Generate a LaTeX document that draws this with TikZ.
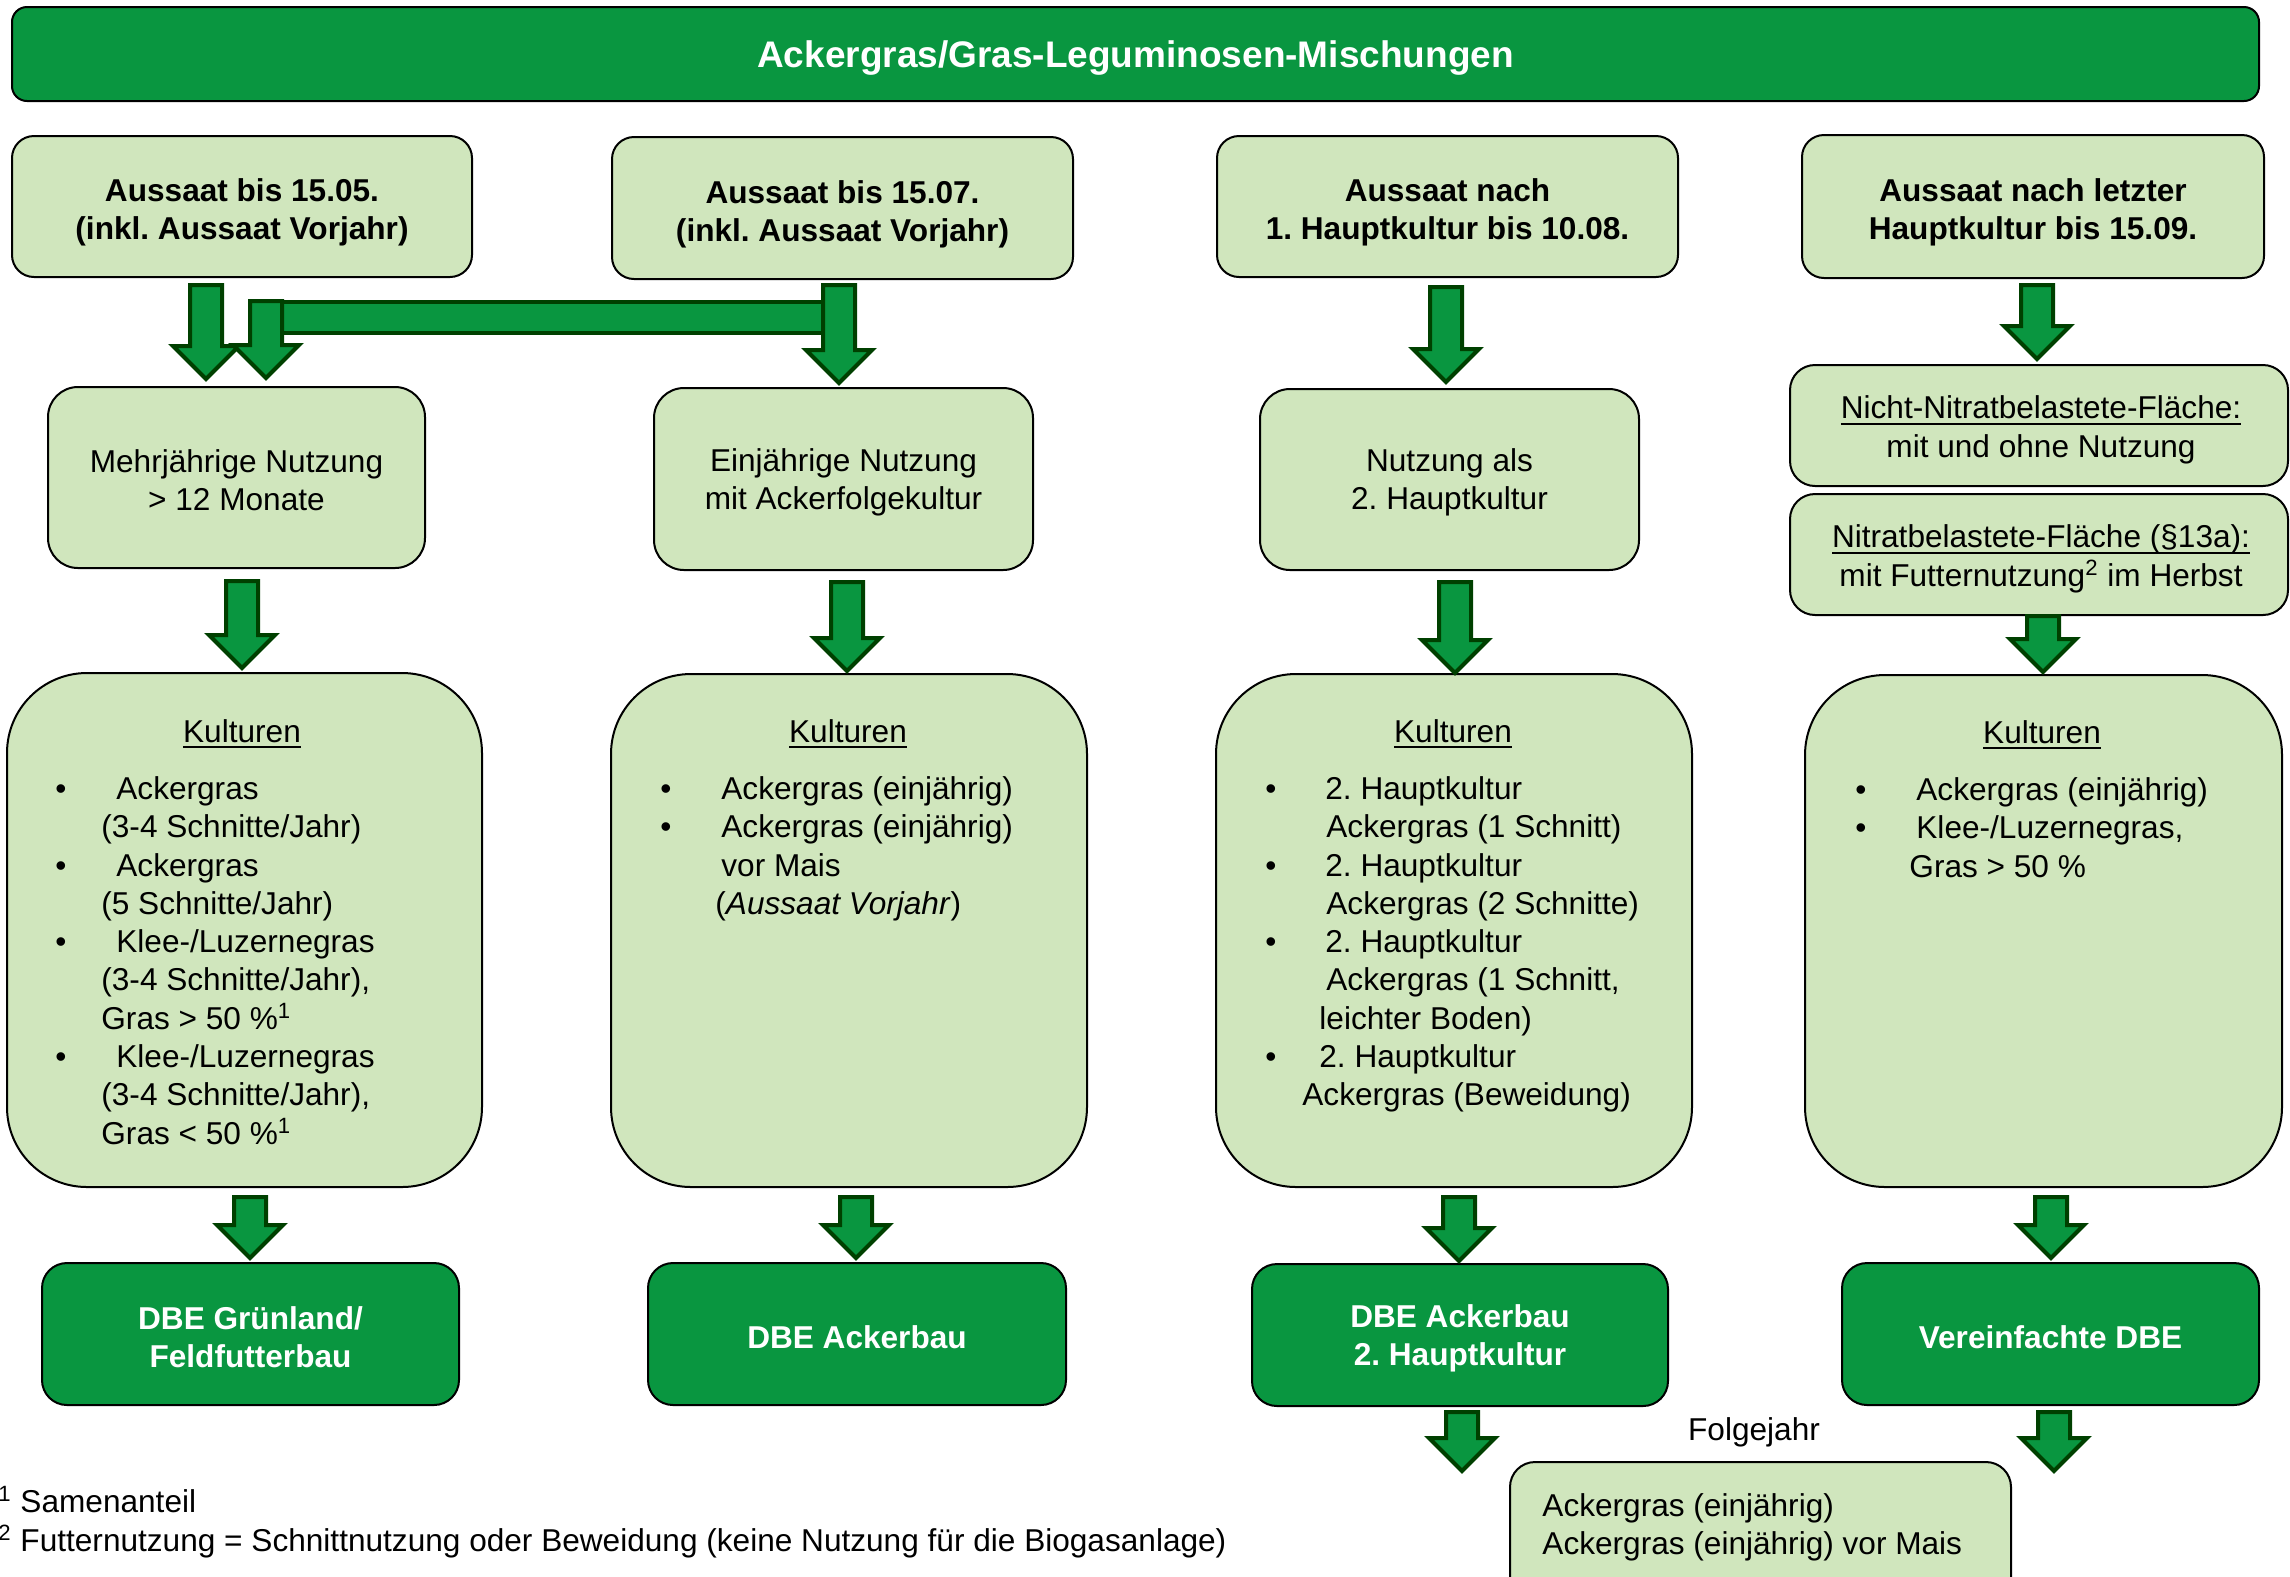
\documentclass[tikz,border=0pt]{standalone}
\usepackage{fontspec}
\setmainfont{Liberation Sans}
\usetikzlibrary{calc}
\frenchspacing
\definecolor{gfill}{RGB}{9,150,64}
\definecolor{lfill}{RGB}{208,230,189}
\definecolor{adark}{RGB}{0,64,0}
\newcommand\fs{\fontsize{15.8pt}{19.15pt}\selectfont}
\newcommand\fst{\fontsize{18.5pt}{22pt}\selectfont}
\newcommand\bul[1]{\llap{\textbullet\hspace{#1}}}
\newcommand\uln[1]{\setbox0\hbox{#1}\rlap{\rule[-2.9pt]{\wd0}{0.9pt}}\box0}
\newcommand\st{\rule{0pt}{12pt}}
\newcommand\barrow[5]{%
 \draw[arrowst] let \p1=#2, \p2=#3 in
 ({#1*0.5pt-8pt},{\y1-#4*0.5pt}) -- ({#1*0.5pt+8pt},{\y1-#4*0.5pt})
 -- ({#1*0.5pt+8pt},{\y2+#5*0.5pt+16.5pt}) -- ({#1*0.5pt+16.5pt},{\y2+#5*0.5pt+16.5pt})
 -- ({#1*0.5pt},{\y2+#5*0.5pt}) -- ({#1*0.5pt-16.5pt},{\y2+#5*0.5pt+16.5pt})
 -- ({#1*0.5pt-8pt},{\y2+#5*0.5pt+16.5pt}) -- cycle;}
\begin{document}
\begin{tikzpicture}[x=0.5pt,y=-0.5pt,
 wh/.style 2 args={minimum width=#1*0.5pt,minimum height=#2*0.5pt},
 rc/.style={rounded corners=#1*0.5pt},
 lbox/.style={draw=black,line width=1pt,fill=lfill,inner sep=0pt},
 gbox/.style={draw=black,line width=1pt,fill=gfill,inner sep=0pt},
 ctext/.style={inner sep=0pt,align=center,font=\fs},
 wtext/.style={inner sep=0pt,align=center,font=\fs\bfseries,text=white},
 arrowst/.style={draw=adark,fill=gfill,line width=2pt,line join=miter},
 txt/.style={inner sep=0pt,font=\fs,align=left,anchor=north west},
 lbl/.style={inner sep=0pt,font=\fs}]
\useasboundingbox (0,0) rectangle (2290,1576);
\clip (0,0) rectangle (2290,1576);

% title
\node[gbox,wh={2247}{94},rc=15] (title) at (1135.5,54) {};
\node[wtext,font=\fst\bfseries] (titlet) at ([yshift=-2.2pt]title.center) {Ackergras/Gras-Leguminosen-Mischungen};

% row 1
\node[lbox,wh={460}{141},rc=22] (b1) at (242,206.5) {};
\node[lbox,wh={461}{142},rc=22] (b2) at (842.5,208) {};
\node[lbox,wh={461}{141},rc=22] (b3) at (1447.5,206.5) {};
\node[lbox,wh={462}{143},rc=22] (b4) at (2033,206.5) {};
\node[ctext,font=\fs\bfseries] (b1t) at ([yshift=-3pt]b1.center) {Aussaat bis 15.05.\\(inkl. Aussaat Vorjahr)};
\node[ctext,font=\fs\bfseries] (b2t) at ([yshift=-3pt]b2.center) {Aussaat bis 15.07.\\(inkl. Aussaat Vorjahr)};
\node[ctext,font=\fs\bfseries] (b3t) at ([yshift=-3pt]b3.center) {Aussaat nach\\1. Hauptkultur bis 10.08.};
\node[ctext,font=\fs\bfseries] (b4t) at ([yshift=-3pt]b4.center) {Aussaat nach letzter\\Hauptkultur bis 15.09.};

% row 2
\node[lbox,wh={377}{181},rc=30] (m1) at (236.5,477.5) {};
\node[lbox,wh={379}{182},rc=30] (m2) at (843.5,479) {};
\node[lbox,wh={379}{181},rc=30] (m3) at (1449.5,479.5) {};
\node[lbox,wh={498}{121},rc=25] (n1) at (2039,425.5) {};
\node[lbox,wh={498}{121},rc=25] (n2) at (2039,554.5) {};
\node[ctext] (m1t) at ([yshift=-1.5pt]m1.center) {Mehrjährige Nutzung\\> 12 Monate};
\node[ctext] (m2t) at ([yshift=-1.5pt]m2.center) {Einjährige Nutzung\\mit Ackerfolgekultur};
\node[ctext] (m3t) at ([yshift=-1.5pt]m3.center) {Nutzung als\\2. Hauptkultur};
\node[ctext] (n1t) at ([xshift=1pt,yshift=-2.2pt]n1.center) {\uln{Nicht-Nitratbelastete-Fläche:}\\mit und ohne Nutzung};
\node[ctext] (n2t) at ([xshift=1pt,yshift=-2.2pt]n2.center) {\uln{Nitratbelastete-Fläche (§13a):}\\mit Futternutzung\textsuperscript{2} im Herbst};

% row 3
\node[lbox,wh={475}{514},rc=80] (k1) at (244.5,930) {};
\node[lbox,wh={476}{513},rc=80] (k2) at (849,930.5) {};
\node[lbox,wh={476}{513},rc=80] (k3) at (1454,930.5) {};
\node[lbox,wh={477}{512},rc=80] (k4) at (2043.5,931) {};

\node[lbl,anchor=base] (k1h) at (242,742) {\uln{Kulturen}};
\node[lbl,anchor=base] (k2h) at (848,742) {\uln{Kulturen}};
\node[lbl,anchor=base] (k3h) at (1453,742) {\uln{Kulturen}};
\node[lbl,anchor=base] (k4h) at (2042,743) {\uln{Kulturen}};

\node[txt] (k1t) at (101,775) {\st\bul{17.5pt}\hspace*{7.5pt}Ackergras\\
(3-4 Schnitte/Jahr)\\
\bul{17.5pt}\hspace*{7.5pt}Ackergras\\
(5 Schnitte/Jahr)\\
\bul{17.5pt}\hspace*{7.5pt}Klee-/Luzernegras\\
(3-4 Schnitte/Jahr),\\
Gras > 50 \%\textsuperscript{1}\\
\bul{17.5pt}\hspace*{7.5pt}Klee-/Luzernegras\\
(3-4 Schnitte/Jahr),\\
Gras < 50 \%\textsuperscript{1}};

\node[txt] (k2t) at (715,775) {\st\bul{22pt}\hspace*{3pt}Ackergras (einjährig)\\
\bul{22pt}\hspace*{3pt}Ackergras (einjährig)\\
\hspace*{3pt}vor Mais\\
(\textit{Aussaat Vorjahr})};

\node[txt] (k3t) at (1302,775) {\st\bul{13pt}\hspace*{11.5pt}2. Hauptkultur\\
\hspace*{12pt}Ackergras (1 Schnitt)\\
\bul{13pt}\hspace*{11.5pt}2. Hauptkultur\\
\hspace*{12pt}Ackergras (2 Schnitte)\\
\bul{13pt}\hspace*{11.5pt}2. Hauptkultur\\
\hspace*{12pt}Ackergras (1 Schnitt,\\
\hspace*{8.5pt}leichter Boden)\\
\bul{13pt}\hspace*{8.5pt}2. Hauptkultur\\
Ackergras (Beweidung)};

\node[txt] (k4t) at (1909,776) {\st\bul{21.5pt}\hspace*{3.5pt}Ackergras (einjährig)\\
\bul{21.5pt}\hspace*{3.5pt}Klee-/Luzernegras,\\
Gras > 50 \%};

% row 4
\node[gbox,wh={417}{142},rc=25] (d1) at (250.5,1334) {};
\node[gbox,wh={418}{142},rc=25] (d2) at (857,1334) {};
\node[gbox,wh={416}{142},rc=25] (d3) at (1460,1335) {};
\node[gbox,wh={417}{142},rc=25] (d4) at (2050.5,1334) {};
\node[wtext] (d1t) at ([yshift=-1.5pt]d1.center) {DBE Grünland/\\Feldfutterbau};
\node[wtext] (d2t) at ([yshift=-1.5pt]d2.center) {DBE Ackerbau};
\node[wtext] (d3t) at ([yshift=-1.5pt]d3.center) {DBE Ackerbau\\2. Hauptkultur};
\node[wtext] (d4t) at ([yshift=-1.5pt]d4.center) {Vereinfachte DBE};

% follow-up year
\node[lbl,anchor=base] (fj) at (1754,1440) {Folgejahr};
\node[lbox,wh={501}{158},rc=25] (f) at (1760.5,1541) {};
\node[txt] (ft) at (1542,1492) {\st Ackergras (einjährig)\\Ackergras (einjährig) vor Mais};

% footnotes
\node[lbl,anchor=base west] (fn1) at (-2,1512) {\textsuperscript{1} Samenanteil};
\node[lbl,anchor=base west] (fn2) at (-2,1551) {\textsuperscript{2} Futternutzung = Schnittnutzung oder Beweidung (keine Nutzung für die Biogasanlage)};

% arrows
\draw[arrowst] (282,302) rectangle (823,333);
\barrow{206}{(b1.south)}{(m1.north)}{7}{7}
\barrow{266}{(b1.south)}{(m1.north)}{23}{8}
\barrow{839}{(b2.south)}{(m2.north)}{5}{4}
\barrow{1446}{(b3.south)}{(m3.north)}{9}{6}
\barrow{2037}{(b4.south)}{(n1.north)}{6}{5}
\barrow{242}{(m1.south)}{(k1.north)}{12}{4}
\barrow{847}{(m2.south)}{(k2.north)}{11}{2}
\barrow{1455}{(m3.south)}{(k3.north)}{11}{0}
\barrow{2043}{(n2.south)}{(k4.north)}{0}{2}
\barrow{250}{(k1.south)}{(d1.north)}{9}{4}
\barrow{856}{(k2.south)}{(d2.north)}{9}{4}
\barrow{1459}{(k3.south)}{(d3.north)}{9}{2}
\barrow{2051}{(k4.south)}{(d4.north)}{9}{4}
\coordinate (e3) at (1462,1471);
\coordinate (e4) at (2054,1471);
\barrow{1462}{(d3.south)}{(e3)}{5}{0}
\barrow{2054}{(d4.south)}{(e4)}{6}{0}
\end{tikzpicture}
\end{document}
